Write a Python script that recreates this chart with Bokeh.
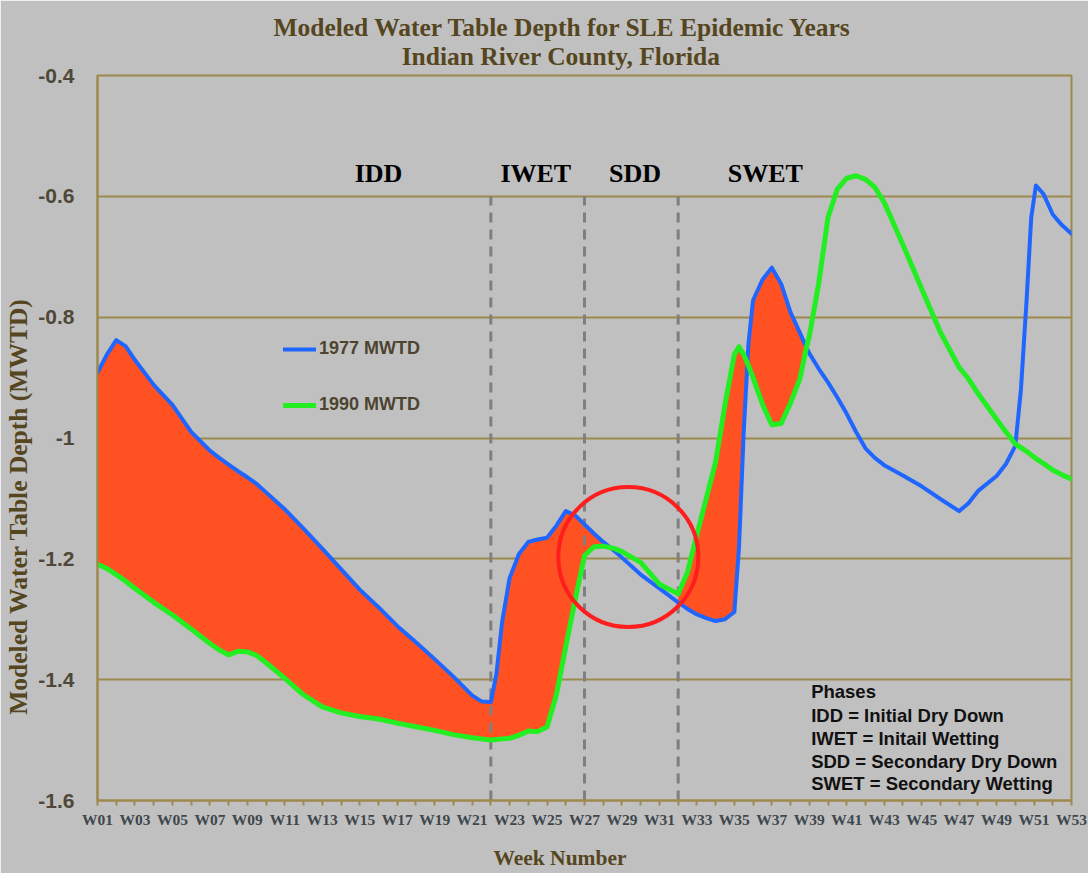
import math
from bokeh.plotting import figure
from bokeh.models import FixedTicker, Label, Legend, LegendItem, Range1d
from bokeh.core.properties import value
from bokeh.embed import file_html
from bokeh.resources import INLINE

# ---------------- data ----------------
weeks = [1, 1.5, 2, 2.5, 3, 4, 5, 6, 7, 7.5, 8, 8.5, 9, 9.5, 10, 11, 12, 13, 14, 15,
         16, 17, 18, 19, 20, 21, 21.5, 22, 22.3, 22.6, 23, 23.5, 24, 24.5, 25, 25.5,
         26, 26.5, 27, 27.5, 28, 28.6, 29, 30, 31, 32, 32.5, 33, 33.5, 34, 34.5, 35,
         35.25, 35.5, 35.75, 36, 36.5, 37, 37.5, 38, 38.5, 38.85, 39, 39.5, 40, 40.5,
         41, 41.5, 42, 42.5, 43, 44, 45, 46, 47, 47.5, 48, 49, 49.5, 50, 50.3, 50.6,
         50.85, 51.1, 51.5, 52, 52.5, 53]

mwtd_1977 = [-0.892, -0.862, -0.838, -0.848, -0.871, -0.912, -0.945, -0.990, -1.021, -1.033,
             -1.044, -1.055, -1.065, -1.076, -1.090, -1.118, -1.150, -1.183, -1.217, -1.251,
             -1.280, -1.311, -1.338, -1.366, -1.395, -1.426, -1.436, -1.437, -1.390, -1.305,
             -1.232, -1.192, -1.172, -1.168, -1.165, -1.145, -1.121, -1.128, -1.143, -1.158,
             -1.172, -1.187, -1.198, -1.226, -1.249, -1.272, -1.283, -1.292, -1.298, -1.303,
             -1.300, -1.288, -1.180, -0.990, -0.845, -0.772, -0.738, -0.718, -0.745, -0.792,
             -0.826, -0.850, -0.860, -0.885, -0.908, -0.933, -0.960, -0.990, -1.017, -1.033,
             -1.045, -1.062, -1.080, -1.101, -1.121, -1.108, -1.088, -1.063, -1.043, -1.013,
             -0.920, -0.773, -0.635, -0.582, -0.596, -0.630, -0.648, -0.662]

mwtd_1990 = [-1.209, -1.216, -1.226, -1.237, -1.249, -1.272, -1.293, -1.316, -1.340, -1.351,
             -1.359, -1.353, -1.354, -1.360, -1.372, -1.398, -1.425, -1.445, -1.455, -1.461,
             -1.465, -1.472, -1.478, -1.484, -1.491, -1.496, -1.498, -1.500, -1.499, -1.498,
             -1.497, -1.492, -1.485, -1.486, -1.478, -1.425, -1.345, -1.268, -1.195, -1.180,
             -1.179, -1.183, -1.188, -1.206, -1.242, -1.258, -1.222, -1.160, -1.100, -1.040,
             -0.945, -0.862, -0.849, -0.862, -0.880, -0.900, -0.944, -0.978, -0.976, -0.942,
             -0.902, -0.850, -0.832, -0.745, -0.635, -0.588, -0.570, -0.566, -0.572, -0.585,
             -0.610, -0.680, -0.753, -0.825, -0.883, -0.902, -0.926, -0.969, -0.990, -1.010,
             -1.016, -1.022, -1.028, -1.034, -1.042, -1.053, -1.061, -1.068]

assert len(weeks) == len(mwtd_1977) == len(mwtd_1990)

series_names = ["1977 MWTD", "1990 MWTD"]
x_tick_weeks = list(range(1, 54))
x_tick_labels = ["W%02d" % w if w % 2 == 1 else "" for w in x_tick_weeks]
y_ticks = [-1.6, -1.4, -1.2, -1.0, -0.8, -0.6, -0.4]
y_tick_labels = ["-1.6", "-1.4", "-1.2", "-1", "-0.8", "-0.6", "-0.4"]

phase_names = ["IDD", "IWET", "SDD", "SWET"]
phase_label_weeks = [16.0, 24.4, 29.7, 36.65]
phase_label_depth = -0.562
phase_boundaries = [22, 27, 32]
phase_boundary_top = -0.6
fill_ranges = [(1, 28.6), (32, 38.85)]
highlight_week, highlight_depth = 29.34, -1.197

phase_notes = ["Phases", "IDD = Initial Dry Down", "IWET = Initail Wetting",
               "SDD = Secondary Dry Down", "SWET = Secondary Wetting"]
phase_note_week = 39.1
phase_note_depths = [-1.419, -1.460, -1.497, -1.535, -1.572]

title_line1 = "Modeled Water Table Depth for SLE Epidemic Years"
title_line2 = "Indian River County, Florida"
x_label = "Week Number"
y_label = "Modeled Water Table Depth (MWTD)"

# ---------------- style ----------------
BG = "#c0c0c0"
OLIVE = "#9c8a4c"
BROWN = "#55461f"
SERIF = "Liberation Serif"
SANS = "Liberation Sans"

p = figure(width=1088, height=873, title=None,
           x_range=Range1d(1, 53), y_range=Range1d(-1.6, -0.4),
           output_backend="svg", toolbar_location=None,
           min_border_left=97, min_border_right=17,
           min_border_top=75, min_border_bottom=73,
           background_fill_color=BG, border_fill_color=BG,
           outline_line_color=OLIVE, outline_line_width=2)

# grid
p.xgrid.visible = False
p.ygrid.ticker = FixedTicker(ticks=y_ticks)
p.ygrid.grid_line_color = OLIVE
p.ygrid.grid_line_width = 2

# axes
p.xaxis.ticker = FixedTicker(ticks=x_tick_weeks)
p.xaxis.major_label_overrides = dict(zip(x_tick_weeks, x_tick_labels))
p.xaxis.axis_line_color = OLIVE
p.xaxis.axis_line_width = 2
p.xaxis.major_tick_line_color = OLIVE
p.xaxis.major_tick_line_width = 2
p.xaxis.major_tick_in = 0
p.xaxis.major_tick_out = 5
p.xaxis.minor_tick_line_color = None
p.xaxis.major_label_standoff = 5
p.xaxis.major_label_text_font = SERIF
p.xaxis.major_label_text_font_style = "bold"
p.xaxis.major_label_text_font_size = "15.5px"
p.xaxis.major_label_text_color = "#3e474d"

p.yaxis.ticker = FixedTicker(ticks=y_ticks)
p.yaxis.major_label_overrides = dict(zip(y_ticks, y_tick_labels))
p.yaxis.axis_line_color = OLIVE
p.yaxis.axis_line_width = 2
p.yaxis.major_tick_line_color = None
p.yaxis.minor_tick_line_color = None
p.yaxis.major_label_standoff = 17
p.yaxis.major_label_text_font = SANS
p.yaxis.major_label_text_font_style = "bold"
p.yaxis.major_label_text_font_size = "21px"
p.yaxis.major_label_text_color = "#4f4838"

# fill between the two years
for lo, hi in fill_ranges:
    idx = [i for i, w in enumerate(weeks) if lo <= w <= hi]
    p.varea(x=[weeks[i] for i in idx], y1=[mwtd_1977[i] for i in idx],
            y2=[mwtd_1990[i] for i in idx], fill_color="#ff5122")

# phase boundaries
p.segment(x0=phase_boundaries, y0=[-1.6] * len(phase_boundaries),
          x1=phase_boundaries, y1=[phase_boundary_top] * len(phase_boundaries),
          line_color="#7f7f7f", line_width=3, line_dash="10 7")

# lines
r77 = p.line(weeks, mwtd_1977, line_color="#1f66ff", line_width=4,
             line_join="round", line_cap="round")
r90 = p.line(weeks, mwtd_1990, line_color="#22ee22", line_width=5,
             line_join="round", line_cap="round")

# highlight circle
p.scatter(x=[highlight_week], y=[highlight_depth], marker="circle", size=140,
          fill_alpha=0, line_color="#ff1e1e", line_width=4)

# phase labels
p.text(x=phase_label_weeks, y=[phase_label_depth] * len(phase_names), text=phase_names,
       text_font=value(SERIF), text_font_style="bold", text_font_size="26px",
       text_align="center", text_baseline="middle", text_color="black")

# phases notes
p.text(x=[phase_note_week] * len(phase_notes), y=phase_note_depths, text=phase_notes,
       text_font=value(SANS), text_font_style="bold", text_font_size="18.5px",
       text_align="left", text_baseline="middle", text_color="#111111")

legend = Legend(items=[LegendItem(label=series_names[0], renderers=[r77]),
                       LegendItem(label=series_names[1], renderers=[r90])],
                location=(186, 385), background_fill_alpha=0, border_line_alpha=0,
                padding=0, margin=0, spacing=35, glyph_width=33, glyph_height=20,
                label_height=20, label_standoff=3,
                label_text_font=SANS, label_text_font_size="18px",
                label_text_font_style="bold", label_text_color="#4d4430")
p.add_layout(legend)

# titles and axis titles as labels in the side panels (not clipped there)
style = dict(text_font=SERIF, text_font_style="bold", text_color=BROWN,
             text_align="center", text_baseline="middle")
p.add_layout(Label(x=25.85, y=48, x_units="data", y_units="screen", text=title_line1,
                   text_font_size="25.5px", **style), "above")
p.add_layout(Label(x=25.75, y=-10, x_units="data", y_units="screen", text=title_line2,
                   text_font_size="25.5px", **style), "above")
p.add_layout(Label(x=25.69, y=-3, x_units="data", y_units="screen", text=x_label,
                   text_font_size="21.5px", **style), "below")
p.add_layout(Label(x=12, y=-1.113, x_units="screen", y_units="data", text=y_label,
                   angle=math.pi / 2, text_font_size="25.5px", **style), "left")

open("out.html", "w").write(file_html(p, INLINE))
